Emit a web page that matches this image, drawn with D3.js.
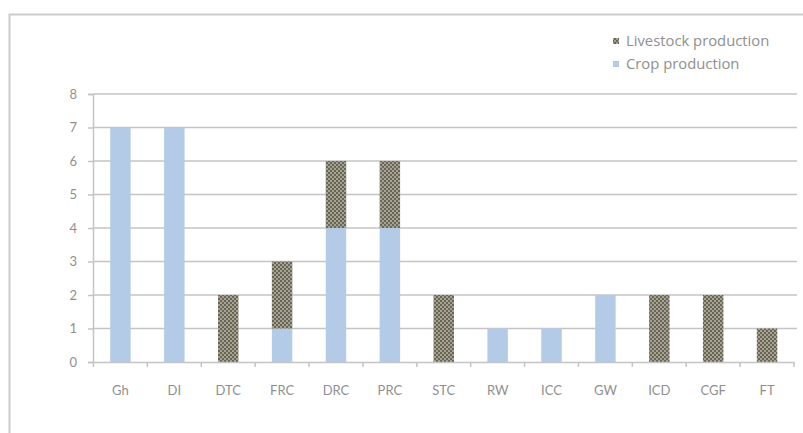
<!DOCTYPE html>
<html><head><meta charset="utf-8">
<script src="https://cdn.jsdelivr.net/npm/d3@7"></script>
<style>body{margin:0;background:#fff;}svg{display:block;}</style>
</head><body>
<svg id="c" width="803" height="433"></svg>
<script>
const categories = ["Gh","DI","DTC","FRC","DRC","PRC","STC","RW","ICC","GW","ICD","CGF","FT"];
const cropValues = [7,7,0,1,4,4,0,1,1,2,0,0,0];
const livestockValues = [0,0,2,2,2,2,2,0,0,0,2,2,1];
const yTicks = [0,1,2,3,4,5,6,7,8];
const seriesNames = ["Crop production","Livestock production"];

const svg = d3.select("#c");
const font = "Lato, 'Open Sans', sans-serif";
const textColor = "#8f8f8f";

const defs = svg.append("defs");
const pat = defs.append("pattern").attr("id","chk").attr("patternUnits","userSpaceOnUse")
  .attr("width",4).attr("height",4);
pat.append("rect").attr("width",4).attr("height",4).attr("fill","#a5a28e");
pat.append("rect").attr("width",2).attr("height",2).attr("fill","#69655a");
pat.append("rect").attr("x",2).attr("y",2).attr("width",2).attr("height",2).attr("fill","#69655a");

// frame
svg.append("path").attr("d","M9.5,433 V14.5 H803").attr("fill","none").attr("stroke","#cccccc").attr("stroke-width",2);

const x = d3.scaleBand().domain(categories).range([93.5,794]).paddingInner(0.62).paddingOuter(0.31);
const y = d3.scaleLinear().domain([0,8]).range([362,94]);

// gridlines
svg.append("g").selectAll("line").data(yTicks.filter(d=>d>0)).join("line")
  .attr("x1",93).attr("x2",797).attr("y1",d=>y(d)).attr("y2",d=>y(d))
  .attr("stroke","#c4c4c4").attr("stroke-width",1.5);

const rows = categories.map((c,i)=>({c, crop:cropValues[i], live:livestockValues[i]}));
const stack = d3.stack().keys(["crop","live"])(rows);
const fills = {crop:"#b4cbe7", live:"url(#chk)"};
svg.append("g").selectAll("g").data(stack).join("g")
  .attr("fill",d=>fills[d.key])
  .selectAll("rect").data(d=>d.filter(p=>p[1]>p[0])).join("rect")
  .attr("x",d=>x(d.data.c)).attr("width",x.bandwidth())
  .attr("y",d=>y(d[1])).attr("height",d=>y(d[0])-y(d[1]));

// y axis
const yAxis = svg.append("g").attr("transform","translate(93,0)")
  .call(d3.axisLeft(y).tickValues(yTicks).tickSize(5).tickPadding(11).tickFormat(d3.format("d")));
yAxis.select(".domain").attr("stroke","#c4c4c4").attr("stroke-width",1.5);
yAxis.selectAll(".tick line").attr("stroke","#c4c4c4").attr("stroke-width",1.5);
yAxis.selectAll("text").attr("fill",textColor).attr("font-family",font).attr("font-size",13);

// x axis
const xAxis = svg.append("g").attr("transform","translate(0,362)")
  .call(d3.axisBottom(x).tickSize(0).tickPadding(20));
xAxis.select(".domain").attr("stroke","#c4c4c4").attr("stroke-width",1.5);
xAxis.selectAll("text").attr("fill",textColor).attr("font-family",font).attr("font-size",13)
  .attr("dy","1.0em");
// boundary ticks
const step = x.step();
const bounds = d3.range(categories.length+1).map(i=>x.range()[0]+i*step);
svg.append("g").selectAll("line").data(bounds).join("line")
  .attr("x1",d=>d).attr("x2",d=>d).attr("y1",362).attr("y2",367)
  .attr("stroke","#c4c4c4").attr("stroke-width",1.5);

// legend
const legend = [{name:seriesNames[1], fill:"url(#chk)", y:41},{name:seriesNames[0], fill:"#b4cbe7", y:64}];
const lg = svg.append("g");
lg.selectAll("rect").data(legend).join("rect")
  .attr("x",613).attr("y",d=>d.y-3).attr("width",6).attr("height",6).attr("fill",d=>d.fill);
lg.selectAll("text").data(legend).join("text")
  .attr("x",626).attr("y",d=>d.y).attr("dy","0.35em")
  .attr("fill",textColor).attr("font-family","'Open Sans', sans-serif").attr("font-size",14.8).text(d=>d.name);
</script>
</body></html>
